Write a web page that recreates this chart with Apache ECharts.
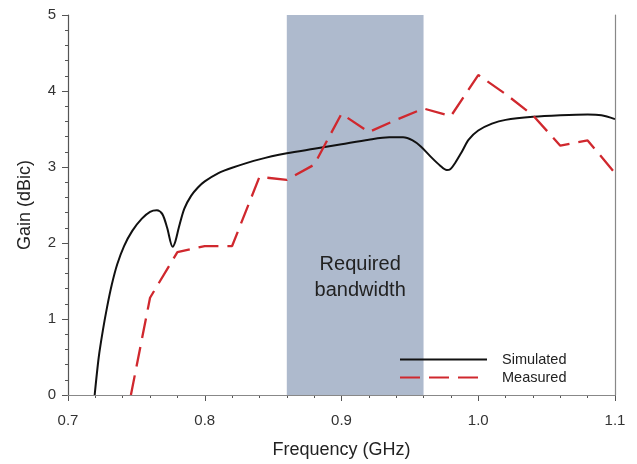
<!DOCTYPE html>
<html><head><meta charset="utf-8">
<script src="https://cdn.jsdelivr.net/npm/echarts@6/dist/echarts.min.js"></script>
<style>html,body{margin:0;padding:0;background:#fff}#c{width:637px;height:464px}</style>
</head><body><div id="c"></div>
<script>
const simFreq = [0.7195,0.7225,0.7255,0.7285,0.732,0.736,0.741,0.747,0.754,0.760,0.765,0.769,0.7725,0.7765,0.7785,0.781,0.785,0.79,0.795,0.80,0.81,0.82,0.84,0.86,0.88,0.90,0.92,0.935,0.945,0.952,0.958,0.965,0.972,0.977,0.9795,0.983,0.988,0.993,1.00,1.01,1.02,1.04,1.06,1.08,1.09,1.10];
const simGain = [0,0.5,0.85,1.15,1.45,1.72,1.96,2.16,2.32,2.41,2.43,2.38,2.2,1.95,2.02,2.2,2.45,2.62,2.73,2.81,2.92,2.99,3.10,3.18,3.24,3.30,3.36,3.39,3.39,3.35,3.27,3.14,3.02,2.96,2.97,3.05,3.2,3.36,3.48,3.57,3.62,3.66,3.68,3.69,3.68,3.63];
const measFreq = [0.746,0.76,0.78,0.80,0.82,0.84,0.86,0.88,0.90,0.92,0.94,0.96,0.98,1.00,1.02,1.04,1.06,1.08,1.10];
const measGain = [0,1.28,1.88,1.96,1.96,2.87,2.83,3.03,3.70,3.46,3.62,3.77,3.67,4.21,3.96,3.68,3.28,3.35,2.92];
const xTicks = [0.7,0.8,0.9,1.0,1.1];
const yTicks = [0,1,2,3,4,5];
const band = [0.86,0.96];

const font = '"Liberation Sans", Arial, Helvetica, sans-serif';
const chart = echarts.init(document.getElementById('c'));
chart.setOption({
  animation:false,
  backgroundColor:'#fff',
  grid:{left:68,right:22,top:15,bottom:66},
  xAxis:[{
    type:'value',min:xTicks[0],max:xTicks[xTicks.length-1],interval:0.1,
    name:'Frequency (GHz)',nameLocation:'middle',nameGap:46,
    nameTextStyle:{fontFamily:font,fontSize:18,color:'#222'},
    axisLine:{show:true,lineStyle:{color:'#555',width:1.2}},
    axisTick:{show:true,length:6,lineStyle:{color:'#555'}},
    minorTick:{show:true,splitNumber:5,length:3,lineStyle:{color:'#555'}},
    splitLine:{show:false},
    axisLabel:{fontFamily:font,fontSize:15,color:'#333',margin:18,formatter:v=>v.toFixed(1)}
  },{
    type:'value',position:'top',min:0.7,max:1.1,z:10,
    axisLine:{show:true,lineStyle:{color:'#888',width:1.2}},
    axisTick:{show:false},axisLabel:{show:false},splitLine:{show:false}
  }],
  yAxis:[{
    type:'value',min:yTicks[0],max:yTicks[yTicks.length-1],interval:1,
    name:'Gain (dBic)',nameLocation:'middle',nameGap:34,
    nameTextStyle:{fontFamily:font,fontSize:18,color:'#222'},
    axisLine:{show:true,lineStyle:{color:'#555',width:1.2}},
    axisTick:{show:true,length:6,lineStyle:{color:'#555'}},
    minorTick:{show:true,splitNumber:5,length:3,lineStyle:{color:'#555'}},
    splitLine:{show:false},
    axisLabel:{fontFamily:font,fontSize:15,color:'#333',margin:12}
  },{
    type:'value',position:'right',min:0,max:5,z:10,
    axisLine:{show:true,lineStyle:{color:'#888',width:1.2}},
    axisTick:{show:false},axisLabel:{show:false},splitLine:{show:false}
  }],
  legend:{
    orient:'vertical',left:394,top:347,itemWidth:87,itemHeight:10,itemGap:3,
    itemStyle:{opacity:0},
    textStyle:{fontFamily:font,fontSize:14.5,lineHeight:14,color:'#222',padding:[0,0,0,10]},
    data:[{name:'Simulated'},{name:'Measured'}]
  },
  series:[
    {
      name:'band',type:'line',data:[],silent:true,z:1,
      markArea:{silent:true,itemStyle:{color:'#aebacd',opacity:1},
        label:{show:true,position:'inside',offset:[5,72],fontFamily:font,fontSize:20,color:'#222',lineHeight:26,
          formatter:'Required\nbandwidth'},
        data:[[{xAxis:band[0],yAxis:0},{xAxis:band[1],yAxis:5}]]}
    },
    {
      name:'Simulated',type:'line',symbol:'none',smooth:0.3,z:3,
      lineStyle:{color:'#111',width:2},itemStyle:{color:'#111'},
      data:simFreq.map((f,i)=>[f,simGain[i]])
    },
    {
      name:'Measured',type:'line',symbol:'none',z:4,
      lineStyle:{color:'#d0282e',width:2.3,type:[20,9]},itemStyle:{color:'#d0282e'},
      data:measFreq.map((f,i)=>[f,measGain[i]])
    }
  ]
});
</script></body></html>
